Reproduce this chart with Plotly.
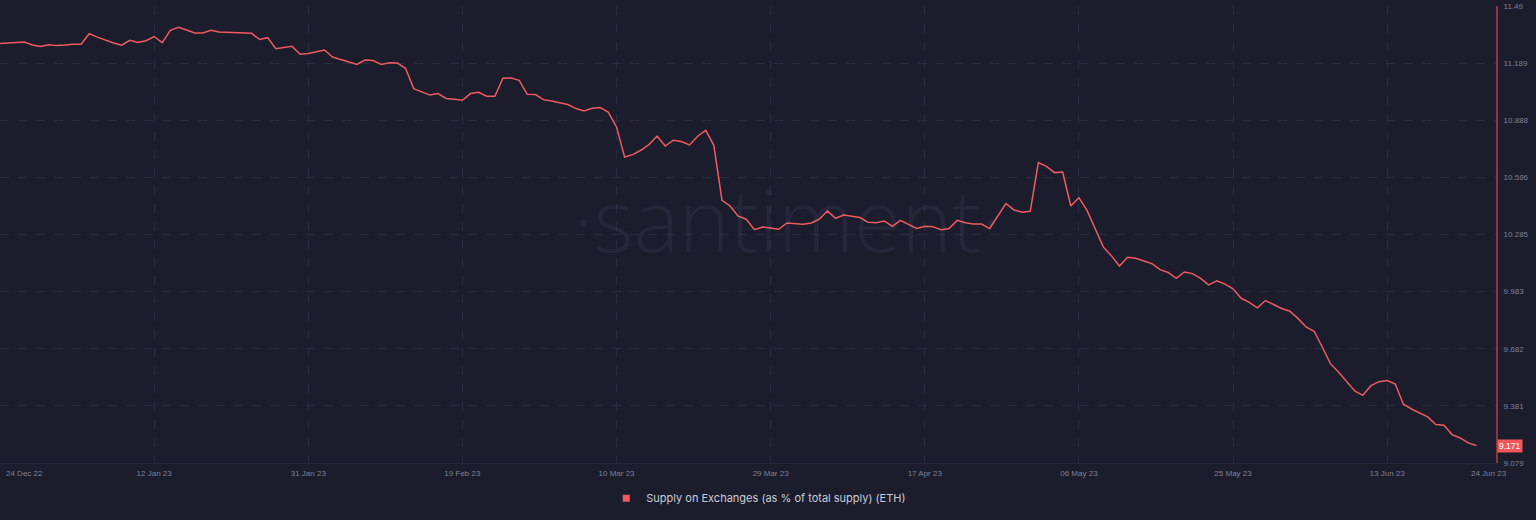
import pandas as pd
import plotly.graph_objects as go

start_date = "2022-12-24"
supply_pct = [
    11.292, 11.295, 11.297, 11.300, 11.284, 11.277, 11.286, 11.281, 11.284, 11.288,
    11.288, 11.344, 11.326, 11.309, 11.295, 11.283, 11.309, 11.297, 11.307, 11.329,
    11.297, 11.362, 11.378, 11.363, 11.348, 11.348, 11.362, 11.353, 11.351, 11.350,
    11.350, 11.346, 11.313, 11.323, 11.265, 11.271, 11.277, 11.235, 11.240, 11.249,
    11.258, 11.221, 11.207, 11.195, 11.182, 11.205, 11.202, 11.182, 11.191, 11.189,
    11.160, 11.054, 11.036, 11.020, 11.028, 11.002, 10.998, 10.993, 11.028, 11.035,
    11.014, 11.014, 11.109, 11.110, 11.098, 11.024, 11.023, 10.996, 10.989, 10.980,
    10.970, 10.949, 10.936, 10.950, 10.954, 10.929, 10.852, 10.693, 10.706, 10.729,
    10.759, 10.804, 10.751, 10.782, 10.775, 10.757, 10.803, 10.834, 10.755, 10.465,
    10.435, 10.381, 10.365, 10.310, 10.324, 10.319, 10.312, 10.345, 10.342, 10.338,
    10.345, 10.365, 10.409, 10.370, 10.387, 10.381, 10.374, 10.349, 10.347, 10.356,
    10.328, 10.359, 10.338, 10.316, 10.328, 10.326, 10.310, 10.316, 10.359, 10.347,
    10.340, 10.340, 10.316, 10.381, 10.448, 10.414, 10.402, 10.407, 10.664, 10.644,
    10.611, 10.614, 10.435, 10.479, 10.412, 10.316, 10.219, 10.173, 10.118, 10.164,
    10.159, 10.145, 10.131, 10.099, 10.084, 10.053, 10.087, 10.078, 10.053, 10.019,
    10.040, 10.023, 9.998, 9.948, 9.926, 9.898, 9.936, 9.915, 9.894, 9.880,
    9.842, 9.797, 9.774, 9.691, 9.603, 9.559, 9.506, 9.459, 9.436, 9.487,
    9.508, 9.514, 9.496, 9.389, 9.364, 9.343, 9.322, 9.282, 9.278, 9.229,
    9.211, 9.185, 9.171,
]
dates = pd.date_range(start_date, periods=len(supply_pct), freq="D")

x_tick_dates = ["2023-01-12", "2023-01-31", "2023-02-19", "2023-03-10", "2023-03-29",
                "2023-04-17", "2023-05-06", "2023-05-25", "2023-06-13"]
x_tick_labels = ["12 Jan 23", "31 Jan 23", "19 Feb 23", "10 Mar 23", "29 Mar 23",
                 "17 Apr 23", "06 May 23", "25 May 23", "13 Jun 23"]
y_tick_vals = [9.079, 9.381, 9.682, 9.983, 10.285, 10.586, 10.888, 11.189, 11.49]
y_tick_labels = ["9.079", "9.381", "9.682", "9.983", "10.285", "10.586", "10.888", "11.189", "11.49"]
series_name = "Supply on Exchanges (as % of total supply) (ETH)"
last_label = "9.171"

BG = "#1b1d2d"
RED = "#f05a5f"
GRID = "#282c3e"
TICK = "#7d8196"
TICKFONT = dict(family="Liberation Sans", size=8, color=TICK)

fig = go.Figure()
fig.add_trace(go.Scatter(
    x=dates, y=supply_pct, mode="lines",
    line=dict(color=RED, width=1.5), showlegend=False, hoverinfo="skip",
))
fig.add_trace(go.Scatter(
    x=[None], y=[None], mode="markers", name=series_name,
    marker=dict(symbol="square", size=7, color=RED), showlegend=True,
))

# watermark (translucent so the series line shows through)
fig.add_annotation(
    text="·santiment·", xref="paper", yref="paper", x=0.526, y=0.535,
    showarrow=False,
    font=dict(family="Open Sans", size=86, color="rgba(150,165,230,0.07)", weight=300),
)
# edge x labels
fig.add_annotation(text="24 Dec 22", xref="paper", yref="paper", x=0.0, y=0,
                   xanchor="left", yanchor="top", yshift=-4, xshift=4, showarrow=False,
                   font=TICKFONT)
fig.add_annotation(text="24 Jun 23", xref="paper", yref="paper", x=1.0, y=0,
                   xanchor="right", yanchor="top", yshift=-4, xshift=13, showarrow=False,
                   font=TICKFONT)
# last value badge
fig.add_annotation(text=last_label, xref="paper", yref="y", x=1.0, y=supply_pct[-1],
                   xanchor="left", yanchor="middle", xshift=1, showarrow=False,
                   bgcolor="#f2575a", borderpad=1,
                   font=dict(family="Liberation Sans", size=8.5, color="#ffffff"))

fig.update_layout(
    width=1536, height=520,
    paper_bgcolor=BG, plot_bgcolor=BG,
    margin=dict(l=0, r=40, t=6, b=57),
    xaxis=dict(
        range=["2022-12-24", "2023-06-26 10:00"],
        tickvals=x_tick_dates, ticktext=x_tick_labels,
        showgrid=True, gridcolor=GRID, griddash="dash", gridwidth=1,
        showline=True, linecolor="#23273a", linewidth=1,
        zeroline=False, ticks="", ticklen=0, ticklabelstandoff=2,
        tickfont=TICKFONT,
    ),
    yaxis=dict(
        side="right", range=[9.079, 11.49],
        tickvals=y_tick_vals, ticktext=y_tick_labels,
        showgrid=True, gridcolor=GRID, griddash="dash", gridwidth=1,
        showline=True, linecolor="#8a3440", linewidth=2,
        zeroline=False, ticks="", ticklabelstandoff=4,
        tickfont=TICKFONT,
    ),
    legend=dict(
        orientation="h", xref="container", yref="container",
        x=0.494, xanchor="center", y=0.042, yanchor="middle",
        font=dict(family="Inter", size=11, color="#c9ccd6"),
        bgcolor="rgba(0,0,0,0)", itemsizing="trace", itemwidth=30,
    ),
    hovermode=False,
)

fig.write_html("out.html", config={"displayModeBar": False},
               post_script="document.body.style.margin='0';")
